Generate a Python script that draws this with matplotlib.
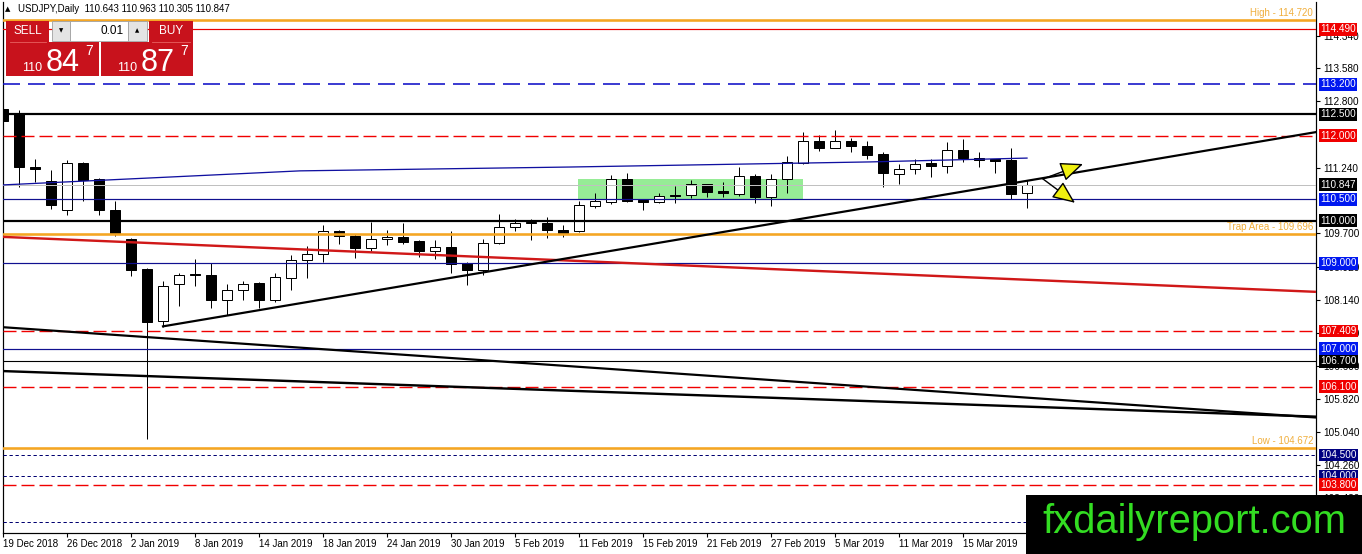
import numpy as np
import matplotlib
matplotlib.use('Agg')
import matplotlib.pyplot as plt
from matplotlib.patches import Rectangle
from matplotlib.transforms import blended_transform_factory

plt.rcParams['font.family'] = ['Liberation Sans', 'DejaVu Sans']
plt.rcParams['lines.scale_dashes'] = False

W, H = 1362, 554
PT = 0.72  # points per pixel at dpi 100

# USDJPY daily candles, 19 Dec 2018 .. 21 Mar 2019
opens = [112.62, 112.50, 111.27, 110.93, 110.25, 111.35, 110.97, 110.25, 109.58, 108.87,
         107.64, 108.51, 108.74, 108.73, 108.13, 108.38, 108.54, 108.13, 108.66, 109.07,
         109.21, 109.76, 109.64, 109.36, 109.56, 109.62, 109.53, 109.30, 109.39, 109.01,
         108.85, 109.47, 109.86, 109.95, 109.95, 109.78, 109.75, 110.35, 110.44, 110.99,
         110.49, 110.44, 110.60, 110.61, 110.85, 110.69, 110.63, 111.04, 110.55, 110.97,
         111.35, 111.87, 111.71, 111.87, 111.75, 111.56, 111.10, 111.21, 111.35, 111.29,
         111.67, 111.48, 111.45, 111.42, 110.643]
highs = [112.75, 112.61, 111.46, 111.20, 111.42, 111.37, 111.00, 110.47, 109.60, 108.90,
         108.58, 108.77, 109.10, 109.01, 108.52, 108.58, 108.55, 108.77, 109.20, 109.41,
         109.89, 109.78, 109.69, 109.98, 109.79, 109.95, 109.54, 109.54, 109.75, 109.02,
         109.56, 110.16, 110.05, 110.03, 110.09, 109.91, 110.47, 110.66, 111.07, 111.13,
         110.50, 110.66, 110.82, 110.96, 110.86, 110.91, 111.26, 111.10, 111.10, 111.51,
         112.08, 112.01, 112.14, 111.93, 111.86, 111.62, 111.32, 111.45, 111.46, 111.84,
         111.92, 111.62, 111.46, 111.70, 110.963]
lows = [112.25, 110.80, 110.92, 110.27, 110.14, 110.46, 110.14, 109.65, 108.70, 104.87,
        107.50, 108.00, 108.46, 107.96, 107.78, 108.13, 107.96, 108.10, 108.37, 108.66,
        109.04, 109.46, 109.13, 109.29, 109.42, 109.45, 109.15, 109.10, 108.78, 108.49,
        108.73, 109.45, 109.76, 109.54, 109.59, 109.62, 109.74, 110.30, 110.39, 110.44,
        110.25, 110.42, 110.42, 110.54, 110.55, 110.55, 110.58, 110.42, 110.35, 110.64,
        111.32, 111.63, 111.70, 111.62, 111.45, 110.79, 110.87, 111.10, 111.02, 111.13,
        111.37, 111.27, 111.13, 110.52, 110.305]
closes = [112.35, 111.26, 111.21, 110.36, 111.35, 110.96, 110.25, 109.70, 108.85, 107.62,
          108.47, 108.73, 108.73, 108.13, 108.38, 108.51, 108.13, 108.68, 109.07, 109.21,
          109.75, 109.64, 109.36, 109.56, 109.62, 109.51, 109.29, 109.38, 108.99, 108.85,
          109.48, 109.86, 109.95, 109.96, 109.78, 109.72, 110.36, 110.47, 110.97, 110.46,
          110.44, 110.58, 110.59, 110.85, 110.68, 110.66, 111.04, 110.55, 110.99, 111.37,
          111.87, 111.71, 111.87, 111.75, 111.54, 111.13, 111.21, 111.34, 111.29, 111.67,
          111.48, 111.43, 111.40, 110.63, 110.847]

date_labels = ['19 Dec 2018', '26 Dec 2018', '2 Jan 2019', '8 Jan 2019', '14 Jan 2019',
               '18 Jan 2019', '24 Jan 2019', '30 Jan 2019', '5 Feb 2019', '11 Feb 2019',
               '15 Feb 2019', '21 Feb 2019', '27 Feb 2019', '5 Mar 2019', '11 Mar 2019',
               '15 Mar 2019']
# visible axis ticks (the ones fully under price boxes / logo are left out)
price_ticks = [114.340, 113.580, 112.800, 111.240, 109.700, 108.920,
               108.140, 107.360, 106.600, 105.820, 105.040, 104.260, 103.480]

# horizontal levels with price boxes on the axis
levels = [114.490, 113.200, 112.500, 112.000, 110.847, 110.500, 110.000, 109.000,
          107.409, 107.000, 106.700, 106.100, 104.500, 104.000, 103.800, 102.930]
level_kinds = ['red', 'blue_dash', 'black_thick', 'red_dash', 'current', 'blue',
               'black_thick', 'blue', 'red_dash', 'blue', 'black', 'red_dash',
               'navy_dot', 'navy_dot', 'red_dash', 'navy_dot_hidden']

# orange marker lines
marker_names = ['High', 'Trap Area', 'Low']
marker_prices = [114.720, 109.696, 104.672]

# trend lines (bar index, price)
support_x, support_y = [10, 82.06], [107.52, 112.08]
red_x, red_y = [0, 82.06], [109.62, 108.33]
blue_x = [0, 18.56, 35.4, 54.2, 64]
blue_y = [110.84, 111.17, 111.26, 111.38, 111.47]
desc1_x, desc1_y = [0, 82.06], [107.50, 105.38]
desc2_x, desc2_y = [0, 82.06], [106.47, 105.40]

# consolidation box and the two yellow arrows
zone_x, zone_y = [35.94, 50.0], [110.52, 110.97]
arrow_start = (65, 110.98)
arrow_ends = [(67.5, 111.33), (67.0, 110.42)]

navy_dot = (0, (3.3 * PT, 2.7 * PT))
styles = {
    'red': dict(color='#e80000', lw=1.2 * PT, ls='-', box='#f00000'),
    'red_dash': dict(color='#f00000', lw=1.4 * PT, ls=(0, (13 * PT, 5 * PT)), box='#f00000'),
    'blue_dash': dict(color='#1010c8', lw=1.6 * PT, ls=(0, (17 * PT, 8 * PT)), box='#0018f0'),
    'blue': dict(color='#101090', lw=1.2 * PT, ls='-', box='#0018f0'),
    'black_thick': dict(color='black', lw=2.2 * PT, ls='-', box='black'),
    'black': dict(color='black', lw=1.1 * PT, ls='-', box='black'),
    'current': dict(color='#c0c0c0', lw=1 * PT, ls='-', box='black'),
    'navy_dot': dict(color='#000070', lw=1 * PT, ls=navy_dot, box='#000080'),
    'navy_dot_hidden': dict(color='#000070', lw=1 * PT, ls=navy_dot, box=None),
}

fig = plt.figure(figsize=(W / 100, H / 100), dpi=100)
left, right, top, bottom = 3, 1316, 2, 533
ax = fig.add_axes([left / W, (H - bottom) / H, (right - left) / W, (bottom - top) / H])
ax.set_xlim(0, (right - left) / 16)
ax.set_ylim(102.669, 115.134)

# green zone
ax.add_patch(Rectangle((zone_x[0], zone_y[0]), zone_x[1] - zone_x[0], zone_y[1] - zone_y[0],
                       facecolor='#96ec96', edgecolor='none', zorder=1))

# candles
x = np.arange(len(opens))
o, h, l, c = map(np.array, (opens, highs, lows, closes))
up = c >= o
body_lo = np.minimum(o, c)
body_h = np.maximum(np.abs(c - o), 0.012)
ax.vlines(x, l, h, color='black', lw=1.0 * PT, zorder=2)
ax.bar(x, body_h, bottom=body_lo, width=0.68, color=np.where(up, 'white', 'black'),
       edgecolor='black', linewidth=1.0 * PT, zorder=2.5)

# horizontal levels
trans = blended_transform_factory(ax.transAxes, ax.transData)
for price, kind in zip(levels, level_kinds):
    st = styles[kind]
    ax.axhline(price, color=st['color'], lw=st['lw'], ls=st['ls'], zorder=3)
    if st['box'] is None:
        continue
    ax.text(1 + 4 / (right - left), price, f'{price:.3f}', transform=trans, ha='left',
            va='center', fontsize=7.2, color='white', clip_on=False, zorder=10,
            bbox=dict(boxstyle='square,pad=0.14', fc=st['box'], ec='none'))

for name, price in zip(marker_names, marker_prices):
    ax.axhline(price, color='#f5a623', lw=2.6 * PT, zorder=3)
    ax.text(1 - 3 / (right - left), price + 0.03, f'{name} - {price:.3f}', transform=trans,
            ha='right', va='bottom', fontsize=7, color='#f0ae3c', zorder=4)

# trend lines
ax.plot(red_x, red_y, color='#d01818', lw=2.4 * PT, zorder=3, solid_capstyle='butt')
ax.plot(blue_x, blue_y, color='#1010a0', lw=1.3 * PT, zorder=3)
ax.plot(support_x, support_y, color='black', lw=2.2 * PT, zorder=3.2)
ax.plot(desc1_x, desc1_y, color='black', lw=2.2 * PT, zorder=3.2)
ax.plot(desc2_x, desc2_y, color='black', lw=2.4 * PT, zorder=3.2)

for end in arrow_ends:
    ax.annotate('', xy=end, xytext=arrow_start,
                arrowprops=dict(arrowstyle='-|>,head_length=1.4,head_width=0.6',
                                fc='#f0f010', ec='black', lw=1.4 * PT, shrinkA=0, shrinkB=0),
                zorder=5)

# axes look
ax.spines['top'].set_visible(False)
for s in ('left', 'right', 'bottom'):
    ax.spines[s].set_linewidth(1.2 * PT)
ax.yaxis.tick_right()
ax.set_yticks(price_ticks)
ax.set_yticklabels([f'{v:.3f}' for v in price_ticks])
ax.set_xticks(np.arange(len(date_labels)) * 4)
ax.set_xticklabels(date_labels, ha='left')
ax.tick_params(axis='y', direction='out', length=3, width=0.8, pad=2, labelsize=7.2)
ax.tick_params(axis='x', direction='out', length=3, width=0.8, pad=1.5, labelsize=7)

# overlay in pixel coordinates: header, trade panel, logo
ov = fig.add_axes([0, 0, 1, 1], zorder=20)
ov.set_xlim(0, W)
ov.set_ylim(H, 0)
ov.axis('off')

ov.text(5, 9, '\u25b2', fontsize=5, va='center', ha='left', family=['DejaVu Sans'])
ov.text(18, 9, 'USDJPY,Daily  110.643 110.963 110.305 110.847', fontsize=7, va='center', ha='left')

red = '#c8121c'
ov.add_patch(Rectangle((6, 21), 43, 21, fc=red, ec='none'))
ov.add_patch(Rectangle((149, 21), 44, 21, fc=red, ec='none'))
ov.add_patch(Rectangle((6, 42), 93, 34, fc=red, ec='none'))
ov.add_patch(Rectangle((101, 42), 92, 34, fc=red, ec='none'))
ov.plot([10, 46], [41.5, 41.5], color='#e86060', lw=0.6)
ov.plot([152, 190], [41.5, 41.5], color='#e86060', lw=0.6)
ov.add_patch(Rectangle((52, 21), 18, 20, fc='#e4e4e4', ec='#a0a0a0', lw=0.6))
ov.add_patch(Rectangle((70, 21), 58, 20, fc='white', ec='#a0a0a0', lw=0.6))
ov.add_patch(Rectangle((128, 21), 19, 20, fc='#e4e4e4', ec='#a0a0a0', lw=0.6))
ov.text(61, 31, '\u25bc', fontsize=4, ha='center', va='center', family=['DejaVu Sans'])
ov.text(137.5, 31, '\u25b2', fontsize=4, ha='center', va='center', family=['DejaVu Sans'])
ov.text(124, 31, '0.01', fontsize=8.5, ha='right', va='center')
ov.text(27.5, 31.5, 'SELL', fontsize=8.5, ha='center', va='center', color='white')
ov.text(171, 31.5, 'BUY', fontsize=8.5, ha='center', va='center', color='white')
for x0, big in ((22, '84'), (117, '87')):
    ov.text(x0, 71, '110', fontsize=9, ha='left', va='baseline', color='white')
    ov.text(x0 + 24, 71, big, fontsize=22, ha='left', va='baseline', color='white')
    ov.text(x0 + 63, 55, '7', fontsize=10, ha='left', va='baseline', color='white')

ov.add_patch(Rectangle((1026, 495), W - 1026, H - 495, fc='black', ec='none'))
ov.text(1042, 533, 'fxdailyreport.com', fontsize=28.7, ha='left', va='baseline',
        color='#33dd22')

fig.savefig('out.png', dpi=100)
